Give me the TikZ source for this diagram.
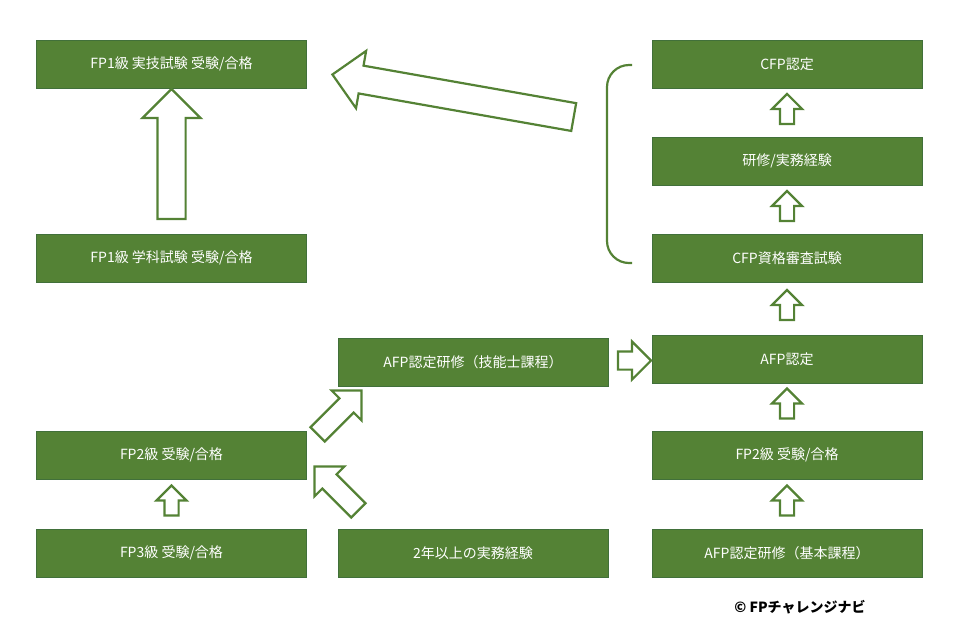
\documentclass[tikz,border=0pt]{standalone}
\usepackage{fontspec}
\setmainfont{Noto Sans CJK JP}
\usetikzlibrary{shapes.arrows,calc}
\definecolor{fpgreen}{HTML}{548235}
\definecolor{fpedge}{HTML}{41703A}
\tikzset{
  stage/.style={draw=fpedge, fill=fpgreen, text=white, minimum width=270pt,
    minimum height=48pt, inner sep=0pt, font=\fontsize{14}{16}\selectfont},
  uparrow/.style={single arrow, draw=fpgreen, line width=2.2pt, fill=white,
    inner sep=6pt, single arrow head extend=8pt, minimum height=30pt, rotate=90},
  bigarrow/.style={single arrow, draw=fpgreen, line width=2.2pt, fill=white,
    inner sep=13pt, single arrow head extend=15pt},
}
\begin{document}
\begin{tikzpicture}[x=1pt, y=-1pt]
    \useasboundingbox (0,0) rectangle (960,641);

    % Left column
    \node[stage] (fpjitsugi) at (171.5,64) {FP1級 実技試験 受験/合格};
    \node[stage] (fpgakka) at (171.5,258) {FP1級 学科試験 受験/合格};
    \node[stage] (fptwoL) at (171.5,455) {FP2級 受験/合格};
    \node[stage] (fpthree) at (171.5,553) {FP3級 受験/合格};

    % Middle column
    \node[stage] (afpgino) at (473,362) {AFP認定研修（技能士課程）};
    \node[stage] (jitsumu) at (473,553) {2年以上の実務経験};

    % Right column
    \node[stage] (cfp) at (787,64) {CFP認定};
    \node[stage] (kenshu) at (787,161) {研修/実務経験};
    \node[stage] (cfpshiken) at (787,258) {CFP資格審査試験};
    \node[stage] (afp) at (787,359) {AFP認定};
    \node[stage] (fptwoR) at (787,455) {FP2級 受験/合格};
    \node[stage] (afpkihon) at (787,553) {AFP認定研修（基本課程）};

    % Small up arrows between boxes
    \foreach \A/\B in {kenshu/cfp, cfpshiken/kenshu, afp/cfpshiken,
                       fptwoR/afp, afpkihon/fptwoR, fpthree/fptwoL} {
        \node[uparrow] (up-\A) at ($(\A.north)!0.5!(\B.south)$) {};
    }

    % Big arrows
    \node[bigarrow, minimum height=130pt, rotate=90] (gakka-up)
        at ($(fpgakka.north)!0.5!(fpjitsugi.south)$) {};
    \node[bigarrow, minimum height=245pt, rotate=170] (to-jitsugi) at (460,97) {};
    \node[bigarrow, inner sep=9pt, single arrow head extend=11pt,
        minimum height=62pt, rotate=45] (to-gino1) at (336,416) {};
    \node[bigarrow, inner sep=9pt, single arrow head extend=11pt,
        minimum height=62pt, rotate=135] (to-gino2) at (340,492) {};
    \node[bigarrow, inner sep=8pt, single arrow head extend=10pt,
        minimum height=33pt] (to-afp) at ($(afpgino.east)!0.5!(afp.west)$) {};

    % Bracket
    \draw[fpgreen, line width=2.2pt, rounded corners=22pt]
        (632,65) -- (607,65) -- (607,263) -- (632,263);

    % Credit
    \node[font=\bfseries\fontsize{14}{16}\selectfont] (credit) at (800,607) {© FPチャレンジナビ};
\end{tikzpicture}
\end{document}
